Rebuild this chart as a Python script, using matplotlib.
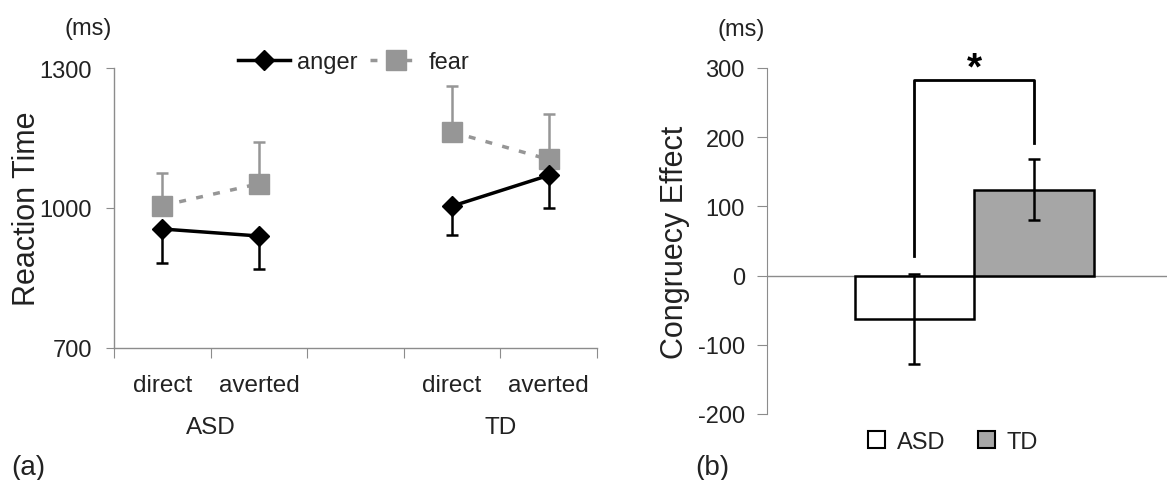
import numpy as np
import matplotlib
matplotlib.use("Agg")
import matplotlib.pyplot as plt
from matplotlib.patches import Patch
from matplotlib.lines import Line2D

plt.rcParams["font.family"] = ["Liberation Sans", "DejaVu Sans"]
plt.rcParams["axes.unicode_minus"] = False

# panel (a): reaction time
conditions = ["direct", "averted", "direct", "averted"]
groups = ["ASD", "TD"]
anger_rt = [955, 940, 1004, 1070]
anger_se = [72, 71, 61, 69]
fear_rt = [1005, 1052, 1163, 1104]
fear_se = [70, 89, 99, 98]

# panel (b): congruency effect
bar_groups = ["ASD", "TD"]
effect = [-63, 124]
effect_se = [65, 44]

GRAY_AX = "#8c8c8c"
FEAR_C = "#969696"
TXT = "#222222"
W, H = 1167, 481

fig = plt.figure(figsize=(11.67, 4.81), dpi=100)

# ---- (a)
ax1 = fig.add_axes([114 / W, 1 - 349 / H, 483 / W, 280 / H])
xpos = np.array([0.5, 1.5, 3.5, 4.5])
for seg in (slice(0, 2), slice(2, 4)):
    ax1.errorbar(xpos[seg], fear_rt[seg], yerr=[[0, 0], fear_se[seg]],
                 color=FEAR_C, lw=2.5, ls=(0, (2, 3)), marker="s", ms=15,
                 mec=FEAR_C, ecolor=FEAR_C, elinewidth=1.8, capsize=4, capthick=1.8, zorder=2)
    ax1.errorbar(xpos[seg], anger_rt[seg], yerr=[anger_se[seg], [0, 0]],
                 color="black", lw=2.5, marker="D", ms=10.5,
                 ecolor="black", elinewidth=1.8, capsize=4, capthick=1.8, zorder=3)

ax1.set_xlim(0, 5)
ax1.set_ylim(700, 1300)
ax1.set_yticks([700, 1000, 1300])
ax1.set_xticks(range(6))
ax1.set_xticklabels([])
ax1.set_xticks(xpos, minor=True)
ax1.set_xticklabels(conditions, minor=True)
ax1.tick_params(axis="x", which="minor", length=0, pad=19, labelsize=17.5, labelcolor=TXT)
ax1.tick_params(axis="x", which="major", length=7, color=GRAY_AX, direction="out")
ax1.tick_params(axis="y", length=6, color=GRAY_AX, direction="out", labelsize=17,
                labelcolor=TXT, pad=10)
for s in ("top", "right"):
    ax1.spines[s].set_visible(False)
for s in ("left", "bottom"):
    ax1.spines[s].set_color(GRAY_AX)
    ax1.spines[s].set_linewidth(1)
ax1.set_ylabel("Reaction Time", fontsize=22, color=TXT)
ax1.yaxis.set_label_coords(-72 / 483, 0.5)
for gx, g in zip([1.0, 4.0], groups):
    ax1.text(gx, -0.282, g, transform=ax1.get_xaxis_transform(), ha="center",
             va="center", fontsize=17.5, color=TXT)
fig.text(88 / W, 1 - 29 / H, "(ms)", ha="center", va="center", fontsize=17, color=TXT)

leg_handles = [
    Line2D([], [], color="black", lw=2.5, marker="D", ms=10.5),
    Line2D([], [], color=FEAR_C, lw=2.5, ls=(0, (2, 3)), marker="s", ms=15, mec=FEAR_C),
]
fig.legend(leg_handles, ["anger", "fear"], ncol=2, frameon=False, fontsize=17,
           loc="center", bbox_to_anchor=(354 / W, 1 - 63 / H), handlelength=2.2,
           columnspacing=0.5, handletextpad=0.3, labelcolor=TXT)

# ---- (b)
ax2 = fig.add_axes([767 / W, 1 - 415 / H, 400 / W, 346 / H])
bx = np.arange(len(bar_groups))
ax2.bar(bx, effect, width=1.0, color=["white", "#a6a6a6"], edgecolor="black",
        linewidth=1.8, zorder=2)
ax2.errorbar(bx, effect, yerr=effect_se, fmt="none", ecolor="black",
             elinewidth=1.8, capsize=4, capthick=1.8, zorder=3)
ax2.axhline(0, color=GRAY_AX, lw=1, zorder=1)
ax2.set_xlim(-1.233, 2.115)
ax2.set_ylim(-200, 300)
ax2.set_yticks(range(-200, 301, 100))
ax2.set_xticks([])
ax2.tick_params(axis="y", length=7, color=GRAY_AX, direction="out", labelsize=17,
                labelcolor=TXT, pad=9)
for s in ("top", "right", "bottom"):
    ax2.spines[s].set_visible(False)
ax2.spines["left"].set_color(GRAY_AX)
ax2.set_ylabel("Congruecy Effect", fontsize=22, color=TXT)
ax2.yaxis.set_label_coords(-77 / 400, 0.5)
fig.text(741 / W, 1 - 30 / H, "(ms)", ha="center", va="center", fontsize=17, color=TXT)

# significance bracket
ax2.plot([0, 0, 1, 1], [29, 282, 282, 192], color="black", lw=2, clip_on=False)
ax2.text(0.5, 299, "*", ha="center", va="center", fontsize=28, fontweight="bold")

bar_handles = [Patch(facecolor="white", edgecolor="black", lw=1.5),
               Patch(facecolor="#a6a6a6", edgecolor="black", lw=1.5)]
fig.legend(bar_handles, bar_groups, ncol=2, frameon=False, fontsize=17,
           loc="center", bbox_to_anchor=(953 / W, 1 - 443 / H),
           handlelength=0.7, handleheight=0.7, handletextpad=0.5,
           columnspacing=1.4, labelcolor=TXT)

fig.text(28 / W, 1 - 468 / H, "(a)", fontsize=20, ha="center", va="center", color=TXT)
fig.text(712 / W, 1 - 468 / H, "(b)", fontsize=20, ha="center", va="center", color=TXT)

fig.savefig("out.png", dpi=100)
